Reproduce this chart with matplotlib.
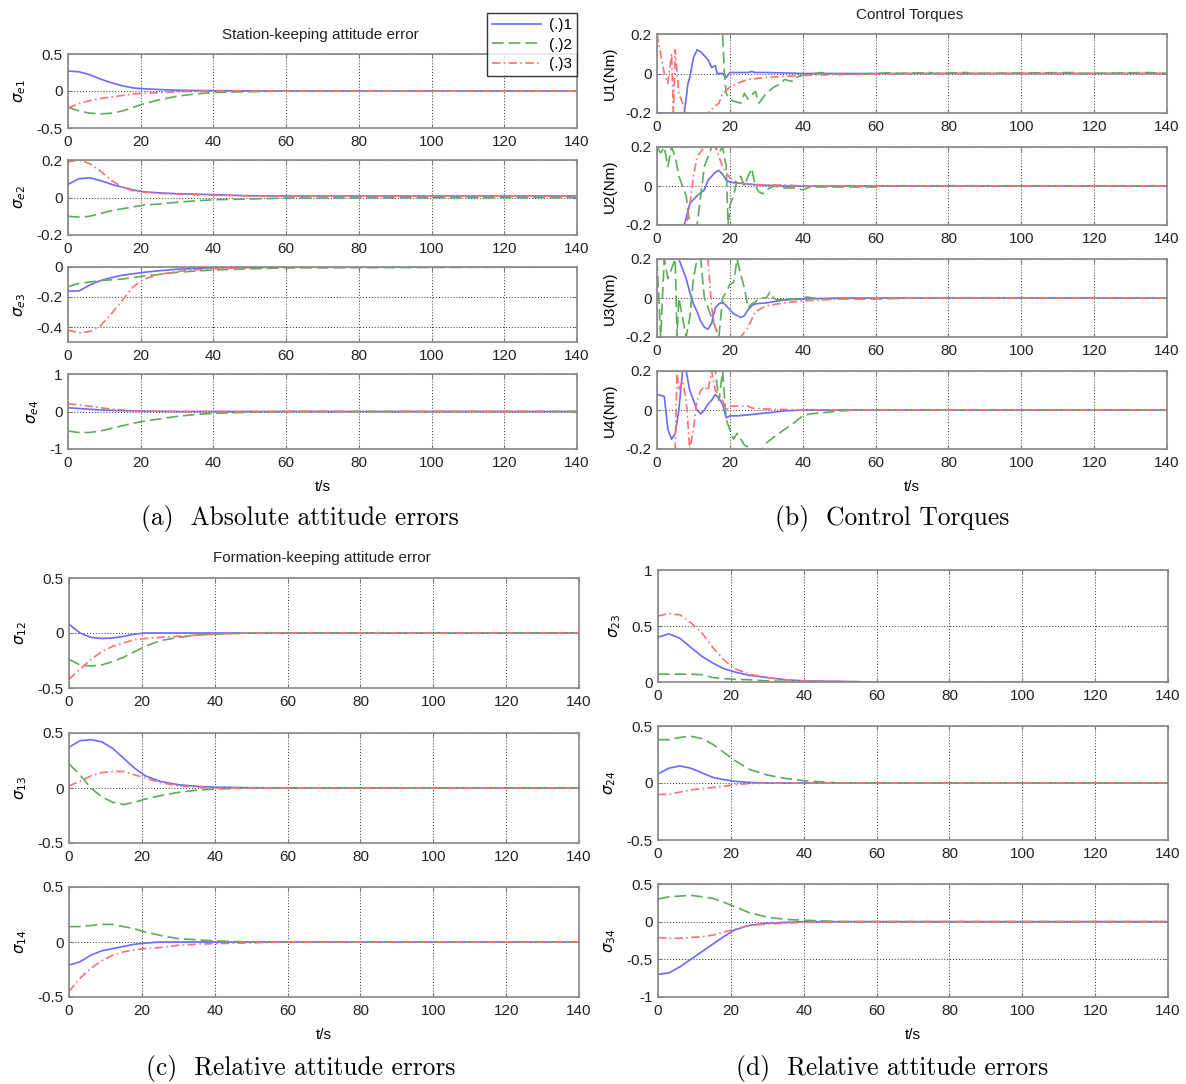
import matplotlib
matplotlib.use('Agg')
import matplotlib.pyplot as plt

W, H = 1186, 1084

# common time grid for the smooth attitude errors
t = [0, 3, 6, 9, 12, 15, 18, 21, 25, 30, 35, 40, 50, 60, 140]

# (a) station-keeping attitude errors
e1_1 = [0.27, 0.26, 0.22, 0.16, 0.11, 0.07, 0.04, 0.03, 0.02, 0.01, 0.007, 0.005, 0.002, 0, 0]
e1_2 = [-0.22, -0.27, -0.30, -0.31, -0.30, -0.27, -0.22, -0.17, -0.12, -0.07, -0.04, -0.02, -0.01, 0, 0]
e1_3 = [-0.23, -0.17, -0.13, -0.10, -0.08, -0.06, -0.04, -0.03, -0.02, -0.01, -0.005, 0, 0, 0, 0]
e2_1 = [0.07, 0.10, 0.105, 0.09, 0.07, 0.055, 0.04, 0.03, 0.025, 0.02, 0.018, 0.015, 0.009, 0.008, 0.008]
e2_2 = [-0.10, -0.105, -0.10, -0.085, -0.07, -0.06, -0.05, -0.04, -0.035, -0.025, -0.018, -0.012, -0.008, -0.003, 0]
e2_3 = [0.19, 0.20, 0.18, 0.14, 0.09, 0.055, 0.035, 0.028, 0.022, 0.018, 0.015, 0.012, 0.009, 0.008, 0.008]
e3_1 = [-0.16, -0.16, -0.12, -0.09, -0.07, -0.055, -0.045, -0.035, -0.025, -0.015, -0.01, -0.005, -0.002, 0, 0]
e3_2 = [-0.13, -0.11, -0.10, -0.09, -0.085, -0.08, -0.07, -0.06, -0.05, -0.035, -0.027, -0.02, -0.012, -0.006, 0]
e3_3 = [-0.42, -0.44, -0.43, -0.39, -0.31, -0.22, -0.13, -0.08, -0.05, -0.03, -0.02, -0.01, -0.004, 0, 0]
e4_1 = [0.10, 0.08, 0.06, 0.04, 0.03, 0.02, 0.015, 0.01, 0.005, 0, 0, 0, 0, 0, 0]
e4_2 = [-0.52, -0.56, -0.56, -0.52, -0.45, -0.38, -0.31, -0.26, -0.20, -0.13, -0.08, -0.05, -0.02, 0, 0]
e4_3 = [0.20, 0.18, 0.14, 0.10, 0.06, 0.04, 0.025, 0.015, 0.01, 0, 0, 0, 0, 0, 0]

# (b) control torques, each series on its own time points
u1_t1 = [0, 7.5, 8.5, 9, 10, 11, 12, 14, 15, 16, 16.5, 18, 19, 20, 25, 26, 27, 30, 35, 40, 140]
u1_1 = [-0.2, -0.2, -0.05, -0.02, 0.08, 0.12, 0.11, 0.07, 0.03, 0.04, 0.0, 0.0, -0.02, 0.005, 0.005, 0.01, 0.005, 0.005, 0.003, 0, 0]
u1_t2 = [0, 18, 18.5, 19, 20, 21, 23, 24, 25, 26, 27, 28, 30, 32, 34, 35, 37, 38, 40, 45, 50, 60, 65, 66, 75, 76, 85, 86, 115, 116, 135, 140]
u1_2 = [0.2, 0.2, 0.0, -0.1, -0.13, -0.14, -0.15, -0.10, -0.13, -0.11, -0.09, -0.15, -0.10, -0.07, -0.05, -0.03, -0.04, -0.02, -0.01, 0.005, -0.005, 0, 0.005, 0, 0.005, 0, 0.005, 0, 0.005, 0, 0.005, 0]
u1_t3 = [0, 1, 2, 3, 4, 4.5, 5, 6, 7, 8, 14, 15, 17, 18, 20, 22, 25, 30, 35, 40, 50, 60, 70, 140]
u1_3 = [0.2, 0.1, 0.0, -0.05, 0.1, -0.2, 0.12, -0.1, -0.15, -0.2, -0.2, -0.18, -0.15, -0.1, -0.07, -0.05, -0.03, -0.02, -0.015, -0.01, -0.005, -0.003, 0, 0]

u2_t1 = [0, 7.5, 9, 10, 11, 13, 14, 16, 17, 18, 19, 20, 22, 25, 28, 35, 140]
u2_1 = [-0.2, -0.2, -0.09, -0.07, -0.05, -0.02, 0.03, 0.07, 0.08, 0.06, 0.03, 0.02, 0.015, 0.01, 0.005, 0, 0]
u2_t2 = [0, 1, 2, 3, 4, 5, 6, 7, 8, 9, 11, 12, 13, 14, 15, 16, 17, 18, 19, 19.5, 20, 21, 22, 23, 24, 25, 26, 27, 28, 29, 30, 32, 35, 38, 40, 42, 50, 60, 61, 140]
u2_2 = [0.2, 0.17, 0.2, 0.1, 0.2, 0.15, 0.05, 0.0, -0.05, -0.2, -0.2, -0.05, 0.1, 0.15, 0.2, 0.2, 0.17, 0.2, 0.1, -0.2, -0.1, -0.05, 0.03, 0.05, 0.0, 0.05, 0.09, 0.0, -0.03, -0.04, -0.02, 0.0, -0.01, -0.01, -0.02, -0.005, -0.005, -0.005, 0, 0]
u2_t3 = [0, 8, 9, 10, 11, 13, 16, 17, 18, 20, 22, 25, 30, 35, 40, 140]
u2_3 = [-0.2, -0.2, -0.1, 0.05, 0.15, 0.2, 0.2, 0.15, 0.1, 0.04, 0.02, 0.01, 0.005, 0.005, 0, 0]

u3_t1 = [0, 6, 7, 8, 9, 10, 11, 12, 13, 14, 15, 16, 17, 18, 19, 20, 21, 22, 23, 24, 25, 26, 27, 30, 35, 40, 50, 140]
u3_1 = [0.2, 0.2, 0.15, 0.1, 0.03, -0.03, -0.07, -0.12, -0.15, -0.16, -0.13, -0.05, -0.03, -0.02, -0.04, -0.06, -0.08, -0.09, -0.1, -0.09, -0.06, -0.04, -0.03, -0.025, -0.01, -0.005, 0, 0]
u3_t2 = [0, 1, 2, 3, 5, 5.5, 6, 8, 9, 10, 11, 12, 13, 15, 16, 17, 18, 19, 20, 21, 22, 23, 24, 25, 26, 27, 28, 30, 31, 32, 33, 35, 40, 41, 45, 50, 60, 65, 70, 140]
u3_2 = [0.2, -0.2, 0.2, 0.1, 0.2, -0.2, 0.0, -0.2, -0.1, 0.1, 0.2, 0.2, 0.0, -0.1, -0.15, -0.2, 0.0, 0.03, 0.07, 0.08, 0.2, 0.12, 0.05, -0.05, -0.03, -0.02, 0.0, 0.0, 0.03, 0.0, -0.01, -0.005, -0.005, 0.005, -0.005, -0.005, -0.005, -0.003, 0, 0]
u3_t3 = [0, 14, 15, 16, 17, 23, 25, 27, 30, 35, 40, 50, 60, 140]
u3_3 = [0.2, 0.2, -0.05, -0.15, -0.2, -0.2, -0.15, -0.07, -0.04, -0.025, -0.015, -0.005, 0, 0]

u4_t1 = [0, 2, 3, 4, 5, 6, 7, 8, 9, 10, 11, 12, 13, 14, 15, 16, 17, 18, 19, 20, 22, 25, 30, 35, 40, 140]
u4_1 = [0.08, 0.07, -0.1, -0.15, -0.12, 0.0, 0.2, 0.2, 0.1, 0.05, 0.0, -0.02, 0.0, 0.03, 0.05, 0.08, 0.06, 0.03, -0.04, -0.03, -0.03, -0.025, -0.015, -0.005, 0, 0]
u4_t2 = [0, 16, 17, 18, 19, 20, 21, 22, 23, 24, 26, 29, 30, 32, 35, 38, 40, 42, 45, 50, 55, 140]
u4_2 = [0.2, 0.2, 0.05, 0.2, -0.05, -0.1, -0.15, -0.12, -0.15, -0.18, -0.2, -0.2, -0.17, -0.14, -0.1, -0.06, -0.03, -0.02, -0.015, -0.005, 0, 0]
u4_t3 = [0, 5, 5.5, 6, 7, 8, 9, 10, 11, 12, 13, 14, 15, 16, 17, 18, 19, 20, 22, 25, 26, 30, 40, 140]
u4_3 = [-0.2, -0.2, 0.2, 0.1, 0.15, 0.05, -0.2, -0.1, 0.05, 0.1, 0.12, 0.1, 0.2, 0.1, 0.08, 0.05, 0.0, 0.02, 0.02, 0.02, 0.01, 0.005, 0, 0]

# (c) relative attitude errors
s12_1 = [0.08, 0.0, -0.04, -0.05, -0.045, -0.03, -0.01, 0, 0, 0, 0, 0, 0, 0, 0]
s12_2 = [-0.24, -0.29, -0.30, -0.29, -0.26, -0.22, -0.17, -0.12, -0.07, -0.04, -0.02, -0.01, 0, 0, 0]
s12_3 = [-0.42, -0.33, -0.24, -0.17, -0.12, -0.09, -0.06, -0.05, -0.04, -0.03, -0.02, -0.01, 0, 0, 0]
s13_1 = [0.37, 0.43, 0.44, 0.42, 0.36, 0.27, 0.18, 0.11, 0.06, 0.03, 0.015, 0.008, 0.003, 0, 0]
s13_2 = [0.22, 0.12, 0.0, -0.08, -0.13, -0.15, -0.13, -0.10, -0.07, -0.04, -0.02, -0.01, 0, 0, 0]
s13_3 = [0.02, 0.06, 0.11, 0.14, 0.15, 0.15, 0.12, 0.09, 0.05, 0.02, 0.01, 0, 0, 0, 0]
s14_1 = [-0.21, -0.18, -0.12, -0.08, -0.06, -0.04, -0.02, -0.01, 0, 0, 0, 0, 0, 0, 0]
s14_2 = [0.14, 0.14, 0.15, 0.16, 0.16, 0.14, 0.12, 0.09, 0.06, 0.03, 0.02, 0.01, 0, 0, 0]
s14_3 = [-0.45, -0.33, -0.24, -0.17, -0.12, -0.09, -0.07, -0.06, -0.05, -0.03, -0.02, -0.015, -0.008, 0, 0]

# (d) relative attitude errors
s23_1 = [0.40, 0.43, 0.39, 0.31, 0.23, 0.17, 0.12, 0.09, 0.06, 0.04, 0.02, 0.01, 0.005, 0, 0]
s23_2 = [0.07, 0.07, 0.07, 0.07, 0.065, 0.04, 0.03, 0.025, 0.02, 0.01, 0.005, 0, 0, 0, 0]
s23_3 = [0.59, 0.61, 0.60, 0.53, 0.44, 0.31, 0.20, 0.12, 0.07, 0.04, 0.02, 0.01, 0.005, 0, 0]
s24_1 = [0.08, 0.13, 0.15, 0.13, 0.09, 0.05, 0.03, 0.015, 0.005, 0, 0, 0, 0, 0, 0]
s24_2 = [0.38, 0.38, 0.40, 0.41, 0.39, 0.34, 0.27, 0.20, 0.12, 0.07, 0.04, 0.02, 0, 0, 0]
s24_3 = [-0.10, -0.10, -0.08, -0.06, -0.05, -0.04, -0.03, -0.015, -0.005, 0, 0, 0, 0, 0, 0]
s34_1 = [-0.70, -0.68, -0.60, -0.50, -0.40, -0.30, -0.20, -0.11, -0.05, -0.02, -0.01, 0, 0, 0, 0]
s34_2 = [0.30, 0.33, 0.34, 0.35, 0.33, 0.31, 0.26, 0.20, 0.12, 0.06, 0.03, 0.02, 0, 0, 0]
s34_3 = [-0.21, -0.22, -0.22, -0.21, -0.20, -0.18, -0.14, -0.10, -0.05, -0.03, -0.02, -0.01, 0, 0, 0]

xticks = [0, 20, 40, 60, 80, 100, 120, 140]
legend_labels = ['(.)1', '(.)2', '(.)3']

c1, c2, c3 = '#6a6aff', '#5aad5a', '#ff7070'
styles = [dict(color=c1, ls='-'), dict(color=c2, ls=(0, (7, 3))), dict(color=c3, ls=(0, (5, 2, 1, 2)))]

plt.rcParams['font.family'] = ['Liberation Sans', 'DejaVu Sans']
plt.rcParams['font.size'] = 11

fig = plt.figure(figsize=(W / 100, H / 100), dpi=100)


def make_ax(left, right, top, bottom, ylim, yticks, ylabel, xlabel=False):
    ax = fig.add_axes([left / W, 1 - bottom / H, (right - left) / W, (bottom - top) / H])
    ax.set_xlim(0, 140)
    ax.set_ylim(*ylim)
    ax.set_xticks(xticks)
    ax.set_yticks(yticks)
    ax.set_yticklabels(['%g' % v for v in yticks])
    ax.tick_params(direction='in', length=3, top=True, right=True,
                   labelsize=11, colors='#222222', color='#777777')
    ax.tick_params(axis='x', pad=5)
    ax.tick_params(axis='y', pad=4)
    ax.grid(True, color='#333333', ls=(0, (1, 2)), lw=0.7)
    for sp in ax.spines.values():
        sp.set_color('#888888')
        sp.set_linewidth(1.2)
    ax.set_ylabel(ylabel, fontsize=11, labelpad=6)
    if xlabel:
        ax.set_xlabel('t/s', fontsize=11, labelpad=7)
    return ax


def draw(ax, series):
    for (tt, yy), st in zip(series, styles):
        ax.plot(tt, yy, lw=1.2, **st)


# panel (a)
ax = make_ax(68, 577, 54, 128, (-0.5, 0.5), [-0.5, 0, 0.5], r'$\sigma_{e1}$')
draw(ax, [(t, e1_1), (t, e1_2), (t, e1_3)])
ax = make_ax(68, 577, 160, 235, (-0.2, 0.2), [-0.2, 0, 0.2], r'$\sigma_{e2}$')
draw(ax, [(t, e2_1), (t, e2_2), (t, e2_3)])
ax = make_ax(68, 577, 267, 342, (-0.5, 0), [-0.4, -0.2, 0], r'$\sigma_{e3}$')
draw(ax, [(t, e3_1), (t, e3_2), (t, e3_3)])
ax = make_ax(68, 577, 374, 449, (-1, 1), [-1, 0, 1], r'$\sigma_{e4}$', xlabel=True)
draw(ax, [(t, e4_1), (t, e4_2), (t, e4_3)])
fig.text(320 / W, 1 - 35 / H, 'Station-keeping attitude error', ha='center', va='center', fontsize=11, color='#222222')

handles = [plt.Line2D([], [], lw=1.2, **st) for st in styles]
fig.legend(handles, legend_labels, loc='upper left', bbox_to_anchor=(487 / W, 1 - 13 / H),
           frameon=True, fancybox=False, edgecolor='black', fontsize=11,
           handlelength=3.2, borderpad=0.35, labelspacing=0.35, handletextpad=0.5, borderaxespad=0)

# panel (b)
ax = make_ax(657, 1167, 34, 113, (-0.2, 0.2), [-0.2, 0, 0.2], 'U1(Nm)')
draw(ax, [(u1_t1, u1_1), (u1_t2, u1_2), (u1_t3, u1_3)])
ax = make_ax(657, 1167, 147, 225, (-0.2, 0.2), [-0.2, 0, 0.2], 'U2(Nm)')
draw(ax, [(u2_t1, u2_1), (u2_t2, u2_2), (u2_t3, u2_3)])
ax = make_ax(657, 1167, 259, 337, (-0.2, 0.2), [-0.2, 0, 0.2], 'U3(Nm)')
draw(ax, [(u3_t1, u3_1), (u3_t2, u3_2), (u3_t3, u3_3)])
ax = make_ax(657, 1167, 371, 449, (-0.2, 0.2), [-0.2, 0, 0.2], 'U4(Nm)', xlabel=True)
draw(ax, [(u4_t1, u4_1), (u4_t2, u4_2), (u4_t3, u4_3)])
fig.text(910 / W, 1 - 15 / H, 'Control Torques', ha='center', va='center', fontsize=11, color='#222222')

# panel (c)
ax = make_ax(69, 579, 578, 688, (-0.5, 0.5), [-0.5, 0, 0.5], r'$\sigma_{12}$')
draw(ax, [(t, s12_1), (t, s12_2), (t, s12_3)])
ax = make_ax(69, 579, 733, 843, (-0.5, 0.5), [-0.5, 0, 0.5], r'$\sigma_{13}$')
draw(ax, [(t, s13_1), (t, s13_2), (t, s13_3)])
ax = make_ax(69, 579, 887, 997, (-0.5, 0.5), [-0.5, 0, 0.5], r'$\sigma_{14}$', xlabel=True)
draw(ax, [(t, s14_1), (t, s14_2), (t, s14_3)])
fig.text(322 / W, 1 - 558 / H, 'Formation-keeping attitude error', ha='center', va='center', fontsize=11, color='#222222')

# panel (d)
ax = make_ax(658, 1168, 570, 682, (0, 1), [0, 0.5, 1], r'$\sigma_{23}$')
draw(ax, [(t, s23_1), (t, s23_2), (t, s23_3)])
ax = make_ax(658, 1168, 726, 840, (-0.5, 0.5), [-0.5, 0, 0.5], r'$\sigma_{24}$')
draw(ax, [(t, s24_1), (t, s24_2), (t, s24_3)])
ax = make_ax(658, 1168, 884, 997, (-1, 0.5), [-1, -0.5, 0, 0.5], r'$\sigma_{34}$', xlabel=True)
draw(ax, [(t, s34_1), (t, s34_2), (t, s34_3)])

# captions
cap = dict(ha='center', va='center', fontsize=18.3, family='cmr10')
fig.text(300 / W, 1 - 518 / H, '(a)  Absolute attitude errors', **cap)
fig.text(892 / W, 1 - 518 / H, '(b)  Control Torques', **cap)
fig.text(301 / W, 1 - 1068 / H, '(c)  Relative attitude errors', **cap)
fig.text(892 / W, 1 - 1068 / H, '(d)  Relative attitude errors', **cap)

fig.savefig('out.png', dpi=100)
